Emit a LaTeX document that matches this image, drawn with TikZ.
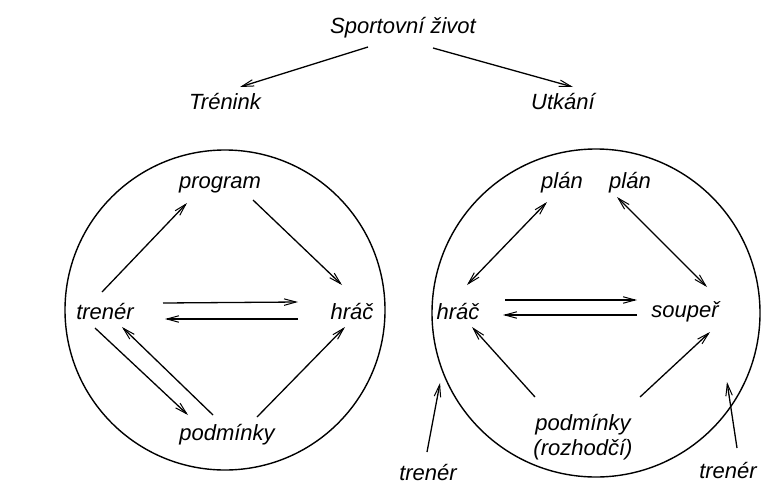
\documentclass[tikz,border=0pt]{standalone}
\usepackage{fontspec}
\setmainfont{Liberation Sans}
\usetikzlibrary{arrows.meta}
\begin{document}
\begin{tikzpicture}[x=1pt,y=-1pt,
  lbl/.style={font=\fontsize{22}{25}\selectfont\itshape, inner sep=1pt},
  tip/.style={},
  arr/.style={line width=1.3pt, -{Straight Barb[length=12pt,width=6.5pt,line width=1pt]}},
  darr/.style={line width=1.3pt, {Straight Barb[length=12pt,width=6.5pt,line width=1pt]}-{Straight Barb[length=12pt,width=6.5pt,line width=1pt]}},
  ring/.style={draw, line width=1.4pt}]
\useasboundingbox (0,0) rectangle (767,487);
% top
\node[lbl] (sz) at (403,28) {Sportovní život};
\node[lbl] (tr) at (225,102) {Trénink};
\node[lbl] (ut) at (563,102) {Utkání};
\coordinate (sz1) at (368,47); \coordinate (tr1) at (240,87);
\coordinate (sz2) at (433,48); \coordinate (ut1) at (573,87);
\draw[arr] (sz1) -- (tr1);
\draw[arr] (sz2) -- (ut1);
% left circle
\node[ring, circle, minimum size=320pt] (c1) at (225,310) {};
\node[lbl] (prog) at (220,185) {program};
\node[lbl] (tren) at (105,312) {trenér};
\node[lbl] (hrac) at (352,312) {hráč};
\node[lbl] (podm) at (227,435) {podmínky};
\coordinate (a1) at (102,292); \coordinate (a2) at (187,203);
\coordinate (b1) at (253,200); \coordinate (b2) at (342,285);
\coordinate (c1a) at (163,303); \coordinate (c1b) at (298,302);
\coordinate (d1) at (298,319); \coordinate (d2) at (165,319);
\coordinate (e1) at (95,328); \coordinate (e2) at (188,415);
\coordinate (f1) at (213,415); \coordinate (f2) at (122,327);
\coordinate (g1) at (257,417); \coordinate (g2) at (345,327);
\draw[arr] (a1) -- (a2);
\draw[arr] (b1) -- (b2);
\draw[arr] (c1a) -- (c1b);
\draw[arr] (d1) -- (d2);
\draw[arr] (e1) -- (e2);
\draw[arr] (f1) -- (f2);
\draw[arr] (g1) -- (g2);
% right circle
\node[ring, circle, minimum size=328pt] (c2) at (596,313) {};
\node[lbl] (plan1) at (562,183) {plán};
\node[lbl] (plan2) at (630,183) {plán};
\node[lbl] (hrac2) at (458,312) {hráč};
\node[lbl] (soup) at (685,312) {soupeř};
\node[lbl, align=center] (podm2) at (583,437) {podmínky\\(rozhodčí)};
\node[lbl] (tren2) at (428,473) {trenér};
\node[lbl] (tren3) at (728,470) {trenér};
\coordinate (h1) at (467,285); \coordinate (h2) at (547,202);
\coordinate (i1) at (617,197); \coordinate (i2) at (707,287);
\coordinate (j1) at (505,300); \coordinate (j2) at (637,300);
\coordinate (k1) at (637,315); \coordinate (k2) at (503,315);
\coordinate (l1) at (535,397); \coordinate (l2) at (472,327);
\coordinate (m1) at (640,397); \coordinate (m2) at (710,332);
\coordinate (n1) at (427,452); \coordinate (n2) at (440,383);
\coordinate (o1) at (737,448); \coordinate (o2) at (727,382);
\draw[darr] (h1) -- (h2);
\draw[darr] (i1) -- (i2);
\draw[arr] (j1) -- (j2);
\draw[arr] (k1) -- (k2);
\draw[arr] (l1) -- (l2);
\draw[arr] (m1) -- (m2);
\draw[arr] (n1) -- (n2);
\draw[arr] (o1) -- (o2);
\end{tikzpicture}
\end{document}
